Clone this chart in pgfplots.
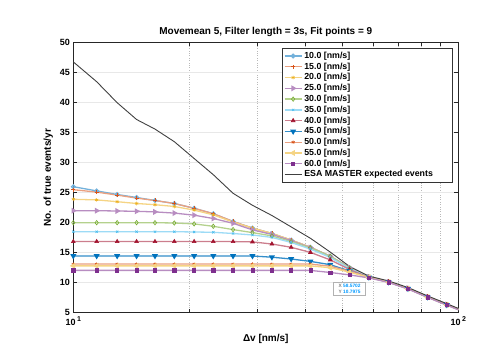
\documentclass[border=0pt]{standalone}
\usepackage{fontspec}
\setmainfont{Liberation Sans}
\usepackage{pgfplots}
\pgfplotsset{compat=1.18}
\usepackage{pgfplotstable}
\definecolor{mblue}{rgb}{0,0.447,0.741}
\definecolor{morange}{rgb}{0.85,0.325,0.098}
\definecolor{myellow}{rgb}{0.929,0.694,0.125}
\definecolor{mpurple}{rgb}{0.494,0.184,0.556}
\definecolor{mgreen}{rgb}{0.466,0.674,0.188}
\definecolor{mcyan}{rgb}{0.301,0.745,0.933}
\definecolor{mred}{rgb}{0.635,0.078,0.184}
\definecolor{tipblue}{rgb}{0.0,0.6,1.0}

\pgfplotstableread{
x     s10   s15   s20   s25   s30   s35   s40   s45   s50   s55   s60   esa
10    26.0  25.5  23.9  22.0  20.0  18.5  16.85 14.45 13.1  12.8  12.05 46.8
11.5  25.3  25.1  23.8  22.0  20.0  18.5  16.85 14.45 13.1  12.8  12.05 43.5
13.0  24.7  24.6  23.5  21.95 20.0  18.5  16.85 14.45 13.1  12.8  12.05 40.0
14.6  24.2  24.1  23.2  21.9  20.0  18.5  16.85 14.45 13.1  12.8  12.05 37.2
16.3  23.7  23.7  23.0  21.8  20.0  18.5  16.85 14.45 13.1  12.8  12.05 35.6
18.3  23.2  23.2  22.7  21.6  19.95 18.5  16.85 14.45 13.1  12.8  12.05 33.5
20.6  22.4  22.4  22.1  21.25 19.8  18.45 16.85 14.45 13.1  12.8  12.05 30.7
23.1  21.5  21.5  21.3  20.7  19.4  18.4  16.85 14.45 13.1  12.8  12.05 28.0
26.0  20.2  20.2  20.1  19.9  18.85 18.2  16.85 14.45 13.1  12.8  12.05 24.9
29.2  19.1  19.1  19.1  18.8  18.35 17.95 16.8  14.45 13.1  12.8  12.05 22.9
32.8  18.2  18.2  18.2  18.05 17.8  17.55 16.45 14.25 13.1  12.8  12.05 21.2
36.8  17.1  17.1  17.1  17.0  16.85 16.7  15.9  13.95 13.1  12.8  12.05 19.3
41.3  15.9  15.9  15.9  15.85 15.8  15.6  15.05 13.55 13.1  12.8  12.05 17.4
46.5  14.4  14.4  14.4  14.4  14.4  14.2  13.8  13.0  12.75 12.5  11.7  15.1
52.2  12.5  12.5  12.5  12.5  12.45 12.35 12.2  11.95 11.9  11.75 11.3  12.7
58.57 10.95 10.95 10.95 10.95 10.95 10.95 10.9  10.9  10.9  10.9  10.8  11.1
65.9  10.15 10.15 10.15 10.15 10.15 10.15 10.15 10.1  10.1  10.1  10.05 10.3
74.0  9.05  9.05  9.05  9.05  9.05  9.05  9.05  9.0   9.0   9.0   8.95  9.2
83.2  7.65  7.65  7.65  7.65  7.65  7.65  7.65  7.6   7.6   7.6   7.55  7.8
93.4  6.35  6.35  6.35  6.35  6.35  6.35  6.35  6.3   6.3   6.3   6.25  6.5
105   5.05  5.05  5.05  5.05  5.05  5.05  5.05  5.0   5.0   5.0   4.95  5.15
}\datatable

\pgfplotsset{
  ser/.style n args={3}{color=#1!55!white, line width=1.3pt, mark=#2, mark size=#3,
    mark options={draw=#1, fill=#1, line width=0.6pt, solid}},
}

\begin{document}
\begin{tikzpicture}
\path[use as bounding box] (-73.3pt,-50.3pt) rectangle (425.7pt,312.7pt);
\begin{axis}[
  at={(0,0)}, anchor=south west,
  scale only axis, width=385pt, height=270pt,
  xmode=log, log basis x=10,
  xmin=10, xmax=100, ymin=5, ymax=50,
  ytick={5,10,...,50},
  xtick={10,100},
  xticklabels={{10\,\raisebox{0.9ex}{\fontsize{7}{8}\selectfont 1}},{10\,\raisebox{0.9ex}{\fontsize{7}{8}\selectfont 2}}},
  minor xtick={20,30,40,50,60,70,80,90},
  tick align=inside,
  major tick length=4pt, minor tick length=3.5pt,
  every tick/.style={black!85, line width=0.6pt},
  xminorgrids, ymajorgrids,
  minor grid style={dotted, gray!55, line width=0.4pt},
  major grid style={gray!18, line width=1.2pt},
  axis line style={line width=1pt, black!85},
  title={Movemean 5, Filter length = 3s, Fit points = 9},
  title style={font=\bfseries\fontsize{10}{12}\selectfont, yshift=-3pt},
  xlabel={Δv [nm/s]},
  ylabel={No. of true events/yr},
  label style={font=\bfseries\fontsize{10}{12}\selectfont},
  xlabel style={yshift=-2pt},
  ticklabel style={font=\bfseries\fontsize{9}{10}\selectfont},
  /pgf/number format/assume math mode=true,
  legend style={at={(0.986,0.980)}, anchor=north east, draw=black!80, line width=0.9pt,
    font=\bfseries\fontsize{8.8}{10}\selectfont, inner sep=1.5pt, row sep=-1.1pt},
  legend cell align=left,
]
\addplot[ser={mblue}{o}{1.8pt}, mark options={fill=none}] table[x=x,y=s10]{\datatable};
\addlegendentry{10.0 [nm/s]}
\addplot[ser={morange}{+}{2pt}] table[x=x,y=s15]{\datatable};
\addlegendentry{15.0 [nm/s]}
\addplot[ser={myellow}{asterisk}{1.8pt}] table[x=x,y=s20]{\datatable};
\addlegendentry{20.0 [nm/s]}
\addplot[ser={mpurple}{triangle*}{2.2pt}, mark options={rotate=-90}] table[x=x,y=s25]{\datatable};
\addlegendentry{25.0 [nm/s]}
\addplot[ser={mgreen}{diamond}{2.2pt}] table[x=x,y=s30]{\datatable};
\addlegendentry{30.0 [nm/s]}
\addplot[ser={mcyan}{x}{1.6pt}] table[x=x,y=s35]{\datatable};
\addlegendentry{35.0 [nm/s]}
\addplot[ser={mred}{triangle*}{2.2pt}] table[x=x,y=s40]{\datatable};
\addlegendentry{40.0 [nm/s]}
\addplot[color=mblue!80!white, line width=1.3pt, mark=triangle*, mark size=2.2pt,
  mark options={draw=mblue, fill=mblue, rotate=180, solid}] table[x=x,y=s45]{\datatable};
\addlegendentry{45.0 [nm/s]}
\addplot[ser={morange}{asterisk}{1.8pt}] table[x=x,y=s50]{\datatable};
\addlegendentry{50.0 [nm/s]}
\addplot[ser={myellow}{triangle*}{2.2pt}, mark options={rotate=90}] table[x=x,y=s55]{\datatable};
\addlegendentry{55.0 [nm/s]}
\addplot[ser={mpurple}{square*}{1.6pt}] table[x=x,y=s60]{\datatable};
\addlegendentry{60.0 [nm/s]}
\addplot[color=black!75, line width=0.9pt, mark=none] table[x=x,y=esa]{\datatable};
\addlegendentry{ESA MASTER expected events\rule{16pt}{0pt}}
\node[draw=gray!60, fill=white, line width=0.6pt, inner xsep=5pt, inner ysep=2pt,
  align=left, font=\bfseries\fontsize{4.8}{5.8}\selectfont]
  at (axis cs:52.2,8.98) {{\color{gray}X} {\color{tipblue}58.5702}\\{\color{gray}Y} {\color{tipblue}10.7975}};
\end{axis}
\end{tikzpicture}
\end{document}
